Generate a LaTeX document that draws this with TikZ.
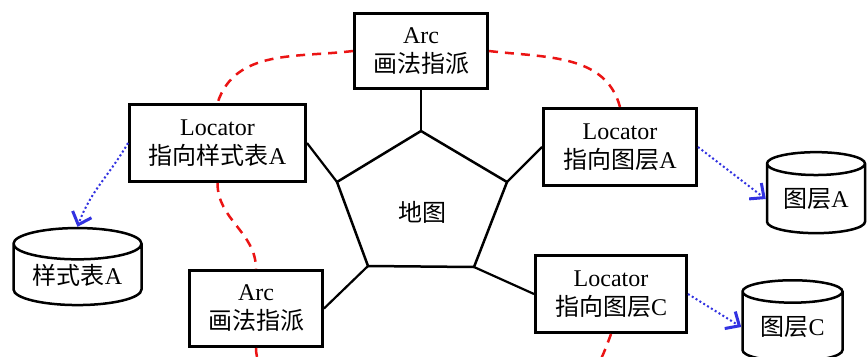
\documentclass[tikz,border=0pt]{standalone}
\usepackage{fontspec}
\setmainfont{Liberation Serif}
\newfontfamily\cjk{Noto Sans CJK SC}
\usetikzlibrary{shapes.geometric,arrows.meta}
\definecolor{refblue}{RGB}{50,50,225}
\definecolor{ringred}{RGB}{235,20,20}

\begin{document}
\begin{tikzpicture}[x=1pt, y=1pt,
  box/.style={draw, line width=3pt, align=center, inner sep=0pt, font=\fontsize{24}{29}\selectfont},
  store/.style={draw, cylinder, shape border rotate=90, aspect=0.35, line width=2.5pt, inner sep=0pt, font=\fontsize{24}{29}\selectfont},
  link/.style={line width=2.2pt},
  ring/.style={draw=ringred, line width=2.5pt, dash pattern=on 9pt off 7pt},
  refer/.style={draw=refblue, line width=2pt, dash pattern=on 2pt off 2.5pt, -{Straight Barb[length=11pt, width=20pt, line width=3pt]}}]
\clip (0,0) rectangle (867,-356);
\fill[white] (0,0) rectangle (867,-356);

% boxes
\node[box, minimum width=133, minimum height=75] (arcT) at (421,-51) {Arc\\{\cjk 画法指派}};
\node[box, minimum width=176, minimum height=77] (locS) at (217.5,-143) {Locator\\{\cjk 指向样式表}A};
\node[box, minimum width=153, minimum height=77] (locA) at (620,-147) {Locator\\{\cjk 指向图层}A};
\node[box, minimum width=133, minimum height=76] (arcB) at (256,-308.5) {Arc\\{\cjk 画法指派}};
\node[box, minimum width=151, minimum height=77] (locC) at (611,-294) {Locator\\{\cjk 指向图层}C};

% stores
\node[store, minimum width=128, minimum height=77] (cylS) at (77.5,-275) {{\cjk 样式表}A};
\node[store, minimum width=98, minimum height=81] (cylA) at (816,-199) {{\cjk 图层}A};
\node[store, minimum width=100, minimum height=81] (cylC) at (792.5,-327) {{\cjk 图层}C};

% map
\coordinate (p1) at (421,-131);
\coordinate (p2) at (507,-182);
\coordinate (p3) at (474,-267);
\coordinate (p4) at (368,-266);
\coordinate (p5) at (337,-182);
\draw[line width=2.5pt, line join=round] (p1) -- (p2) -- (p3) -- (p4) -- (p5) -- cycle;
\node[font=\fontsize{24}{29}\selectfont] (map) at (422,-212) {\cjk 地图};

\draw[line width=1.5pt] (arcT.south) -- (p1);
\draw[link] (locS.east) -- (p5);
\draw[link] (locA.west) -- (p2);
\draw[link] (arcB.east) -- (p4);
\draw[link] (locC.west) -- (p3);

% ring
\coordinate (endB) at (262,-380);
\coordinate (endC) at (590,-380);
\draw[ring] (arcT.west) to[out=187, in=72] (locS.north);
\draw[ring] (arcT.east) to[out=-7, in=105] (locA.north);
\draw[ring] (locS.south) to[out=-90, in=90] (arcB.north);
\draw[ring] (arcB.south) to[out=-90, in=90] (endB);
\draw[ring] (locC.south) to[out=-110, in=60] (endC);

% references
\draw[refer] (locS.west) to[out=-120, in=70] (cylS.north);
\draw[refer] (locA.east) -- (cylA.west);
\draw[refer] (locC.east) -- (cylC.west);
\end{tikzpicture}
\end{document}
